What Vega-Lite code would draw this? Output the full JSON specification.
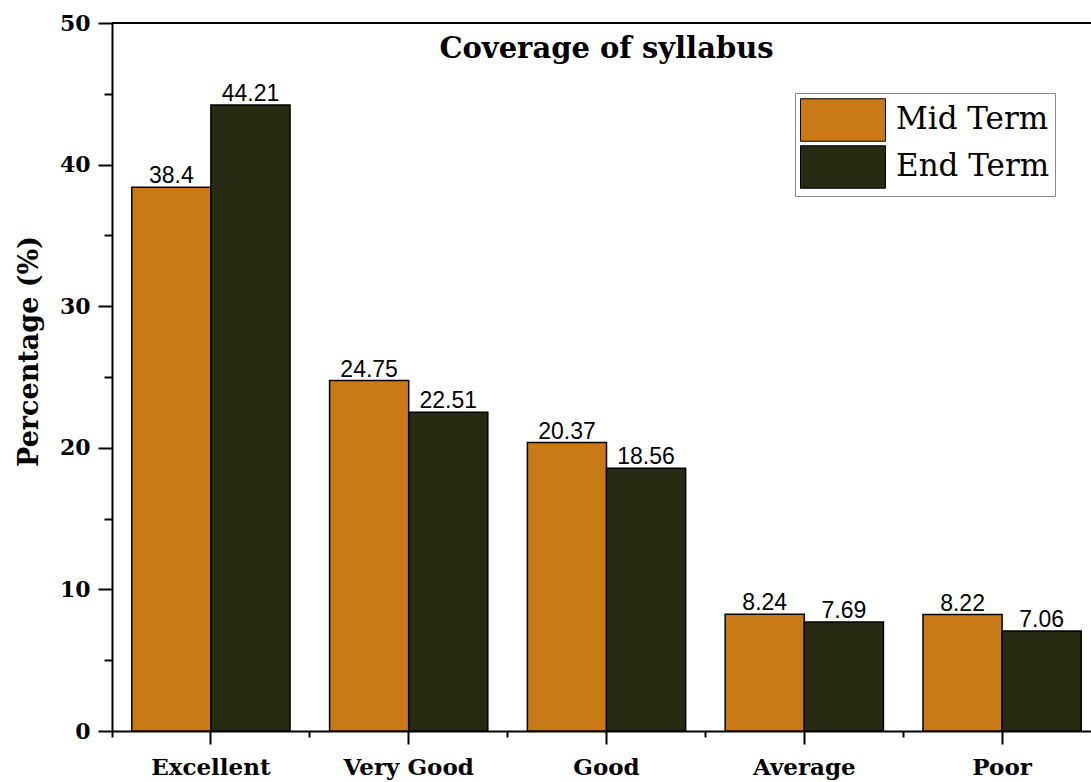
{
  "$schema": "https://vega.github.io/schema/vega-lite/v6.json",
  "autosize": {"type": "none"},
  "padding": {"left": 112, "top": 23, "right": 0, "bottom": 51},
  "width": 979,
  "height": 708,
  "background": "white",
  "config": {
    "view": {"stroke": null},
    "axis": {"domainColor": "black", "tickColor": "black", "labelColor": "black", "titleColor": "black", "grid": false}
  },
  "data": {
    "values": [
      {"rating": "Excellent", "term": "Mid Term", "pct": 38.4},
      {"rating": "Excellent", "term": "End Term", "pct": 44.21},
      {"rating": "Very Good", "term": "Mid Term", "pct": 24.75},
      {"rating": "Very Good", "term": "End Term", "pct": 22.51},
      {"rating": "Good", "term": "Mid Term", "pct": 20.37},
      {"rating": "Good", "term": "End Term", "pct": 18.56},
      {"rating": "Average", "term": "Mid Term", "pct": 8.24},
      {"rating": "Average", "term": "End Term", "pct": 7.69},
      {"rating": "Poor", "term": "Mid Term", "pct": 8.22},
      {"rating": "Poor", "term": "End Term", "pct": 7.06}
    ]
  },
  "resolve": {"axis": {"x": "independent", "y": "independent"}},
  "layer": [
    {
      "mark": {"type": "bar", "stroke": "black", "strokeWidth": 1.5},
      "encoding": {
        "x": {
          "field": "rating", "type": "nominal",
          "sort": ["Excellent", "Very Good", "Good", "Average", "Poor"],
          "scale": {"domain": ["Excellent", "Very Good", "Good", "Average", "Poor"], "range": [0, 989], "paddingInner": 0, "paddingOuter": 0},
          "axis": {
            "title": null, "labelAngle": 0, "orient": "bottom",
            "labelFont": "DejaVu Serif", "labelFontSize": 23, "labelFontWeight": "bold",
            "tickSize": 13, "tickWidth": 2, "domainWidth": 2, "labelPadding": 12
          }
        },
        "xOffset": {
          "field": "term", "type": "nominal",
          "sort": ["Mid Term", "End Term"],
          "scale": {"paddingInner": 0, "paddingOuter": 0.25}
        },
        "y": {
          "field": "pct", "type": "quantitative",
          "scale": {"domain": [0, 50], "nice": false},
          "axis": {
            "title": "Percentage (%)", "orient": "left",
            "values": [0, 10, 20, 30, 40, 50],
            "labelFont": "DejaVu Serif", "labelFontSize": 22, "labelFontWeight": "bold",
            "titleFont": "DejaVu Serif", "titleFontSize": 27, "titleFontWeight": "bold",
            "titleY": 328,
            "tickSize": 14, "tickWidth": 2, "domainWidth": 2, "labelPadding": 8, "titlePadding": 16
          }
        },
        "color": {
          "field": "term", "type": "nominal",
          "sort": ["Mid Term", "End Term"],
          "scale": {"domain": ["Mid Term", "End Term"], "range": ["#c97a17", "#272b12"]},
          "legend": {
            "title": null,
            "orient": "none",
            "legendX": 683,
            "legendY": 70,
            "padding": 5,
            "strokeColor": "#888888",
            "fillColor": "white",
            "symbolType": "M-2,-1H2V1H-2Z",
            "symbolSize": 1806,
            "symbolOffset": 21,
            "symbolStrokeColor": "black",
            "symbolStrokeWidth": 1,
            "symbolOpacity": 1,
            "rowPadding": -1,
            "labelOffset": 31,
            "labelFont": "DejaVu Serif",
            "labelFontSize": 31,
            "labelColor": "black",
            "labelLimit": 300
          }
        }
      }
    },
    {
      "mark": {"type": "text", "font": "Liberation Sans", "fontSize": 23, "baseline": "alphabetic", "dy": -4, "color": "black"},
      "encoding": {
        "x": {
          "field": "rating", "type": "nominal",
          "sort": ["Excellent", "Very Good", "Good", "Average", "Poor"],
          "axis": {
            "orient": "bottom", "title": null, "labels": false, "domain": false,
            "bandPosition": 0, "tickSize": 6, "tickWidth": 2
          }
        },
        "xOffset": {"field": "term", "type": "nominal", "sort": ["Mid Term", "End Term"]},
        "y": {
          "field": "pct", "type": "quantitative",
          "axis": {
            "orient": "left", "title": null, "labels": false, "domain": false,
            "values": [5, 15, 25, 35, 45], "tickSize": 8, "tickWidth": 2
          }
        },
        "text": {"field": "pct", "type": "nominal"}
      }
    },
    {
      "mark": {"type": "rule", "color": "black", "strokeWidth": 2},
      "encoding": {
        "y": {"datum": 50, "axis": null}
      }
    },
    {
      "data": {"values": [{"heading": "Coverage of syllabus", "rating": "Good", "pos": 47.5}]},
      "mark": {"type": "text", "font": "DejaVu Serif", "fontSize": 29, "fontWeight": "bold", "baseline": "alphabetic", "align": "center", "color": "black"},
      "encoding": {
        "x": {"field": "rating", "type": "nominal", "sort": ["Excellent", "Very Good", "Good", "Average", "Poor"], "axis": null},
        "y": {"field": "pos", "type": "quantitative", "axis": null},
        "text": {"field": "heading", "type": "nominal"}
      }
    }
  ]
}
